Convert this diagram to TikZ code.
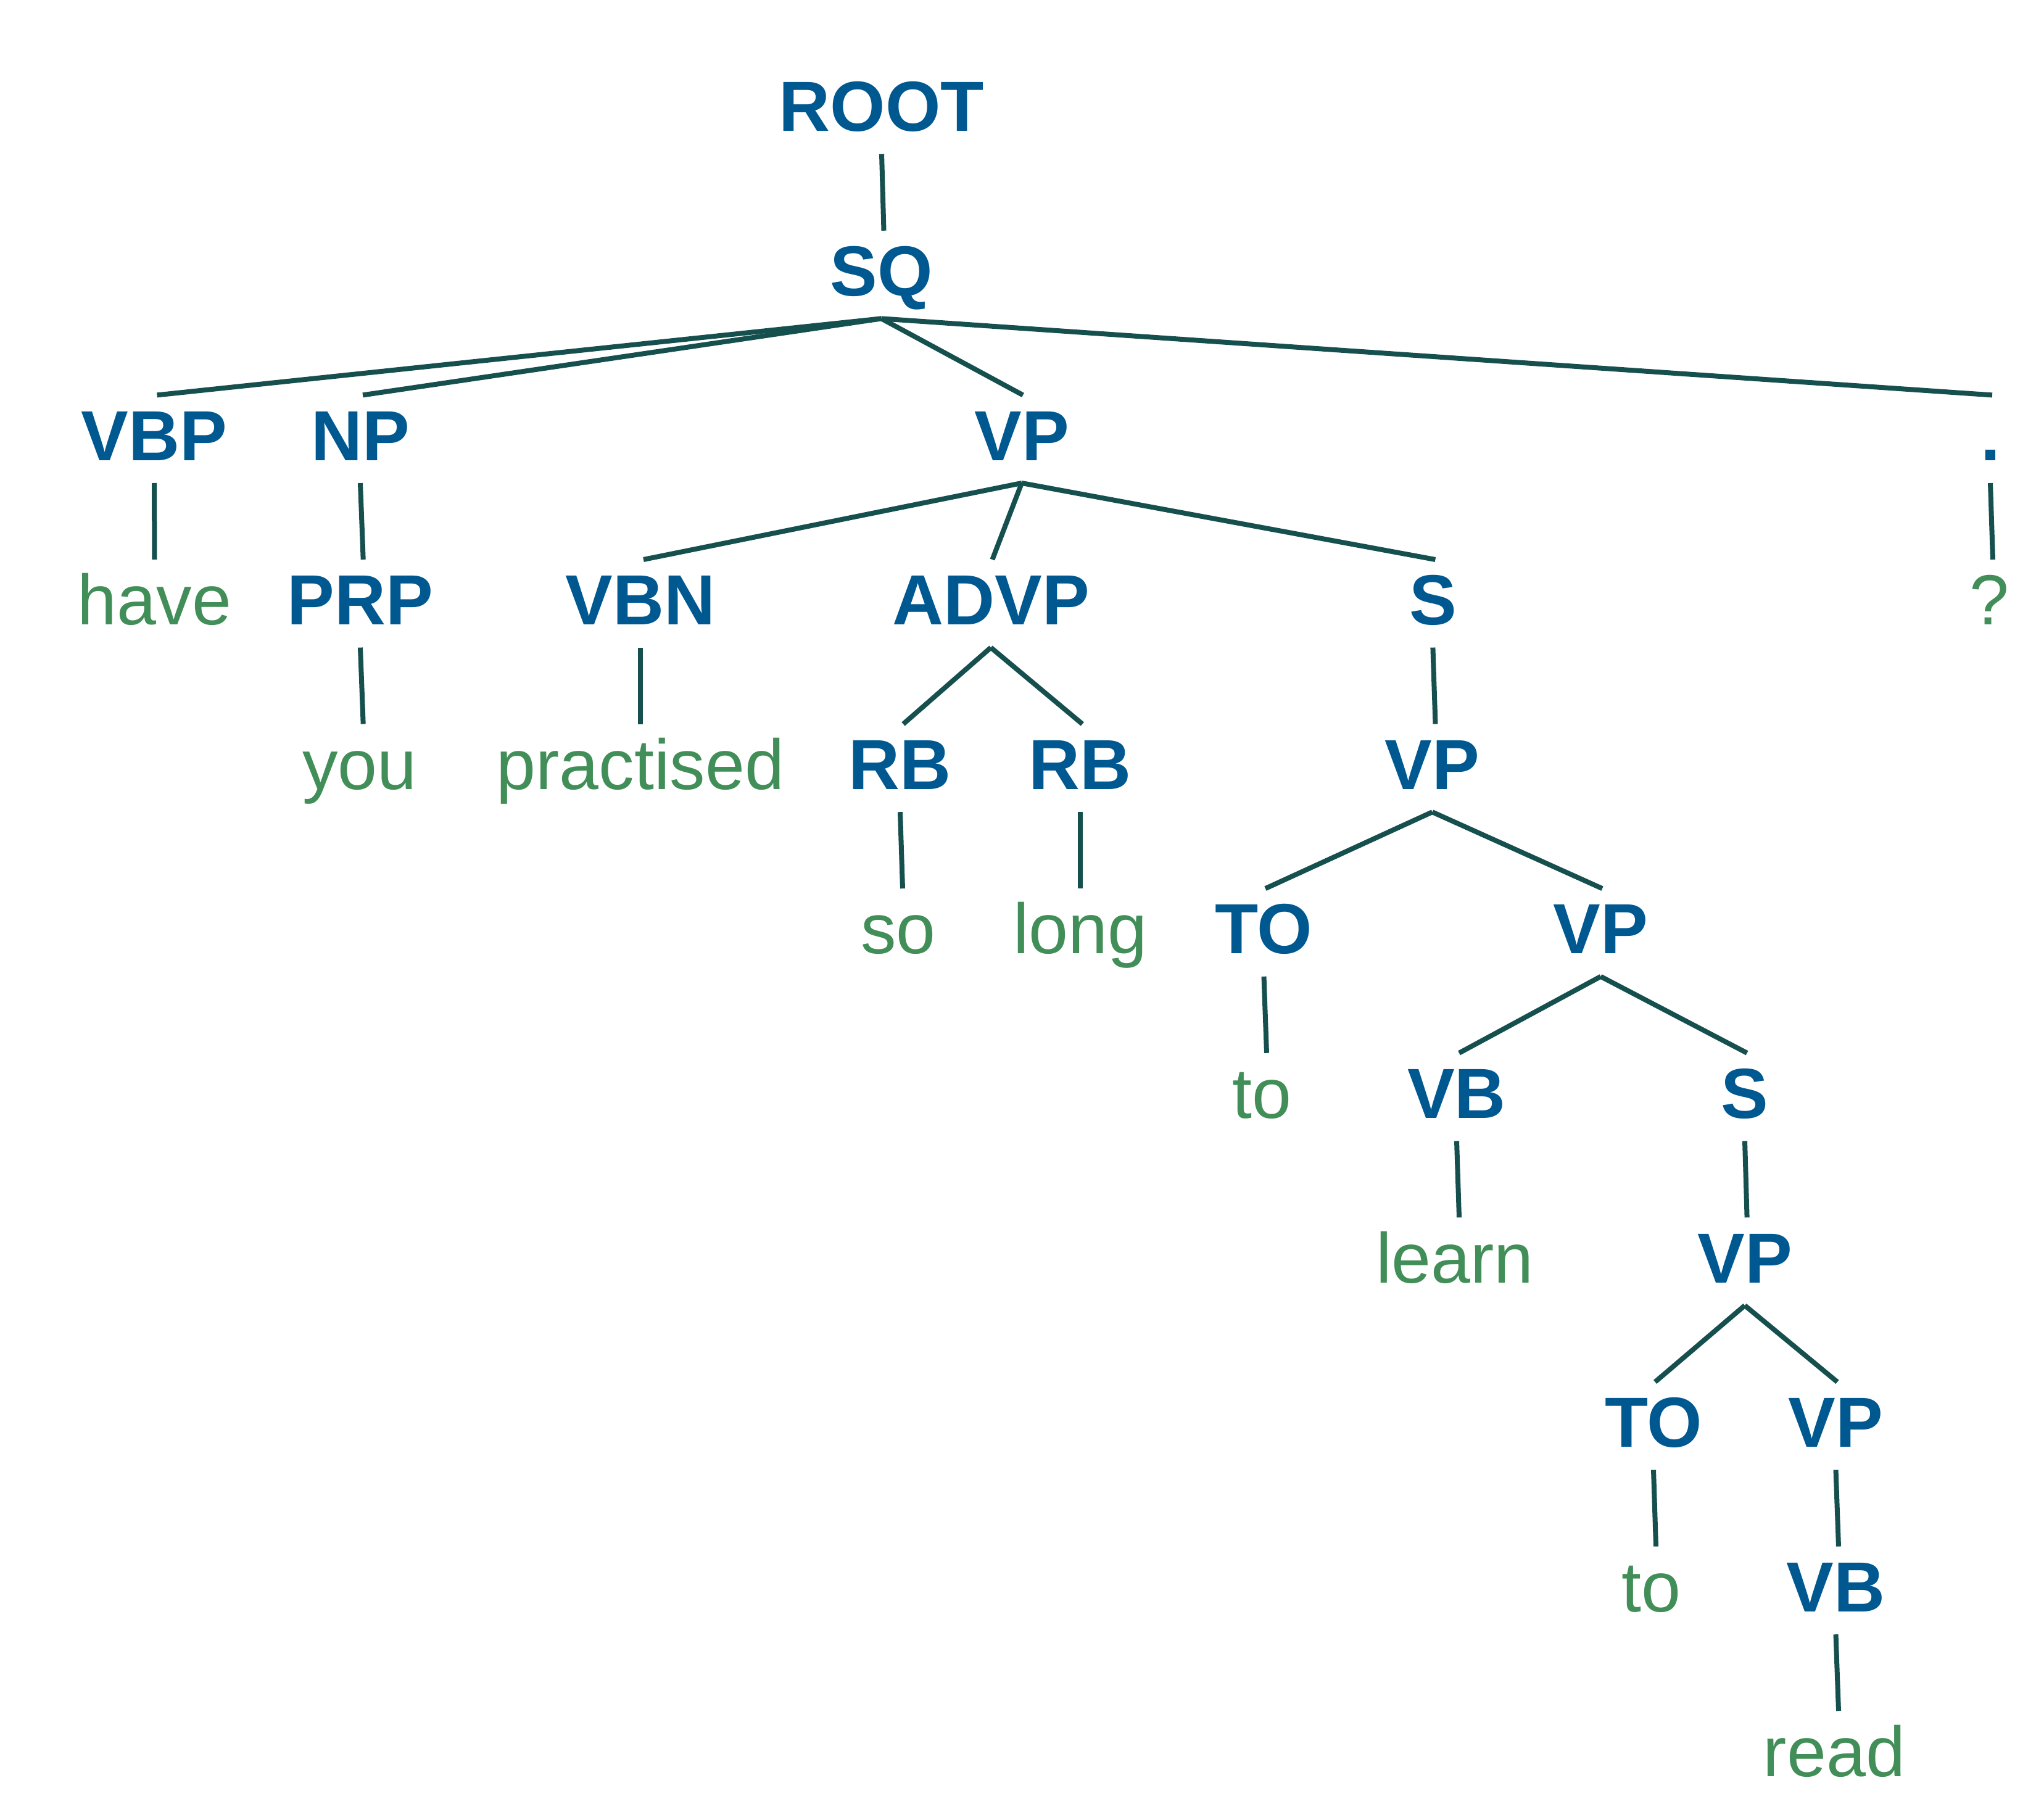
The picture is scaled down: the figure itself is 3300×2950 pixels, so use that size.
\documentclass[tikz,border=0pt]{standalone}
\usepackage{fontspec}
\setmainfont{Liberation Sans}
\usetikzlibrary{calc}
\definecolor{labblue}{RGB}{0,88,145}
\definecolor{wordgreen}{RGB}{66,142,88}
\definecolor{linec}{RGB}{22,80,78}
\newcommand\tbranch[3]{\draw[branch] (#1.south) -- ($(#2.north)+(#3,0)$);}
\begin{document}
\begin{tikzpicture}[x=0.25pt,y=-0.25pt,
  lab/.style={font=\fontsize{28.75}{34}\selectfont\bfseries, text=labblue, anchor=base, inner sep=0pt, text height=26.25pt, text depth=9pt},
  wrd/.style={font=\fontsize{28.75}{34}\selectfont, text=wordgreen, anchor=base, inner sep=0pt, text height=26.25pt, text depth=9pt},
  branch/.style={draw=linec, line width=2pt}]
\useasboundingbox (0,0) rectangle (3300,2950);
% row 0
\node[lab] (root) at (1429,213) {ROOT};
% row 1
\node[lab] (sq) at (1428.5,479.6) {SQ};
% row 2
\node[lab] (vbp) at (250,746.2) {VBP};
\node[lab] (np) at (584,746.2) {NP};
\node[lab] (vpA) at (1656,746.2) {VP};
\node[lab] (dot) at (3226,746.2) {.};
% row 3
\node[wrd] (have) at (250.5,1012.8) {have};
\node[lab] (prp) at (584,1012.8) {PRP};
\node[lab] (vbn) at (1038,1012.8) {VBN};
\node[lab] (advp) at (1606,1012.8) {ADVP};
\node[lab] (sA) at (2322.4,1012.8) {S};
\node[wrd] (qm) at (3224,1012.8) {?};
% row 4
\node[wrd] (you) at (583,1279.4) {you};
\node[wrd] (practised) at (1038,1279.4) {practised};
\node[lab] (rbA) at (1459,1279.4) {RB};
\node[lab] (rbB) at (1751,1279.4) {RB};
\node[lab] (vpB) at (2321.5,1279.4) {VP};
% row 5
\node[wrd] (so) at (1456,1546) {so};
\node[wrd] (long) at (1751,1546) {long};
\node[lab] (toA) at (2048.5,1546) {TO};
\node[lab] (vpC) at (2594.5,1546) {VP};
% row 6
\node[wrd] (toW) at (2045,1812.6) {to};
\node[lab] (vbA) at (2361,1812.6) {VB};
\node[lab] (sB) at (2828,1812.6) {S};
% row 7
\node[wrd] (learn) at (2358,2079.2) {learn};
\node[lab] (vpD) at (2828,2079.2) {VP};
% row 8
\node[lab] (toB) at (2680,2345.8) {TO};
\node[lab] (vpE) at (2975.5,2345.8) {VP};
% row 9
\node[wrd] (toWB) at (2676,2612.4) {to};
\node[lab] (vbB) at (2975.5,2612.4) {VB};
% row 10
\node[wrd] (read) at (2973,2879) {read};
% branches
\tbranch{root}{sq}{4}
\tbranch{sq}{vbp}{4.5}
\tbranch{sq}{np}{4}
\tbranch{sq}{vpA}{2}
\tbranch{sq}{dot}{3}
\tbranch{vbp}{have}{0}
\tbranch{np}{prp}{4.7}
\tbranch{vpA}{vbn}{5}
\tbranch{vpA}{advp}{2.4}
\tbranch{vpA}{sA}{4}
\tbranch{dot}{qm}{6}
\tbranch{prp}{you}{5.7}
\tbranch{vbn}{practised}{0}
\tbranch{advp}{rbA}{5}
\tbranch{advp}{rbB}{3.4}
\tbranch{sA}{vpB}{5}
\tbranch{rbA}{so}{7}
\tbranch{rbB}{long}{0}
\tbranch{vpB}{toA}{2.5}
\tbranch{vpB}{vpC}{2.5}
\tbranch{toA}{toW}{8}
\tbranch{vpC}{vbA}{4}
\tbranch{vpC}{sB}{3.6}
\tbranch{vbA}{learn}{7}
\tbranch{sB}{vpD}{3.6}
\tbranch{vpD}{toB}{2.6}
\tbranch{vpD}{vpE}{2.5}
\tbranch{toB}{toWB}{8}
\tbranch{vpE}{vbB}{4.5}
\tbranch{vbB}{read}{7}
\end{tikzpicture}
\end{document}
